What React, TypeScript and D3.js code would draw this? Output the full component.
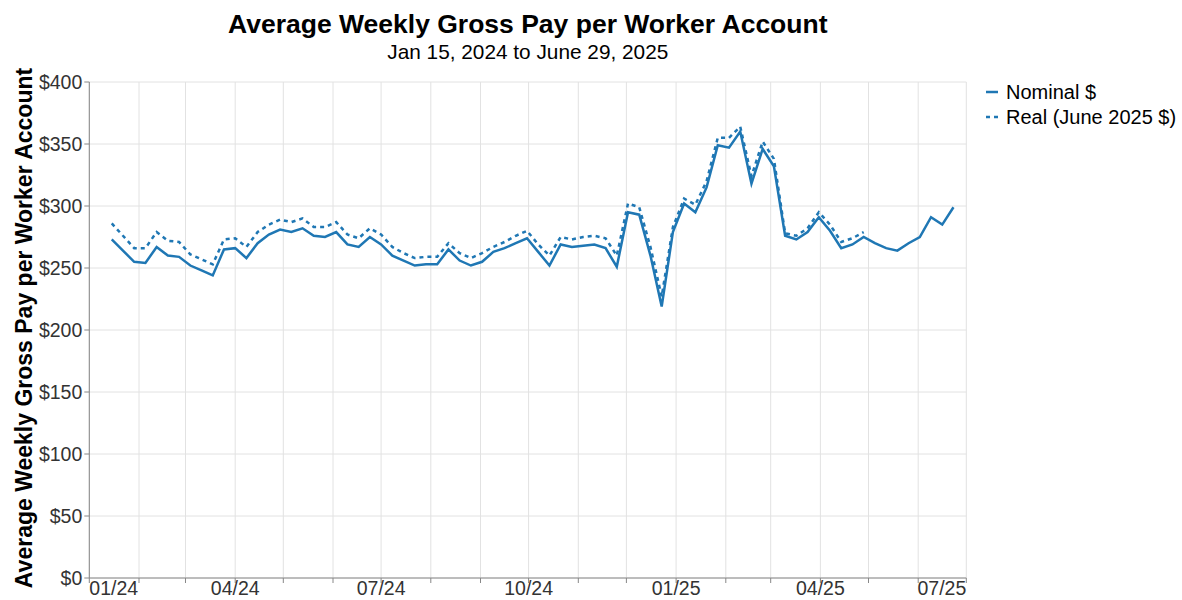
import React from "react";
import * as d3 from "d3";

const START = new Date(Date.UTC(2024, 0, 15));
const nominal = [
  273, 264, 255, 254, 267, 260, 259, 252, 248, 244,
  265, 266, 258, 270, 277, 281, 279, 282, 276, 275,
  279, 269, 267, 275, 269, 260, 256, 252, 253, 253,
  265, 256, 252, 255, 263, 266, 270, 274, 263, 252,
  269, 267, 268, 269, 266, 251, 295, 293, 260, 219,
  279, 302, 295, 315, 349, 347, 360, 318, 346, 332,
  276, 273, 279, 291, 280, 266, 269, 275, 270, 266,
  264, 270, 275, 291, 285, 299,
];
const real = [
  286, 276, 266, 266, 279, 272, 271, 261, 257, 253,
  273, 274, 267, 279, 285, 289, 287, 290, 283, 283,
  287, 277, 274, 282, 277, 267, 262, 258, 259, 259,
  270, 262, 258, 262, 267, 271, 276, 280, 269, 260,
  275, 273, 275, 276, 274, 260, 302, 299, 267, 227,
  283, 306, 301, 320, 355, 355, 364, 324, 352, 338,
  278, 276, 282, 295, 285, 271, 274, 279,
];
const yTicks = [0, 50, 100, 150, 200, 250, 300, 350, 400];
const legendLabels = ["Nominal $", "Real (June 2025 $)"];
const titleText = "Average Weekly Gross Pay per Worker Account";
const subtitleText = "Jan 15, 2024 to June 29, 2025";
const yTitle = "Average Weekly Gross Pay per Worker Account";

const COLOR = "#1f77b4";
const FONT = "'Liberation Sans', Arial, Helvetica, sans-serif";

export default function App() {
  const W = 1182, H = 600;
  const left = 89.3, right = 966.3, top = 82, bottom = 578;
  const x = d3.scaleUtc()
    .domain([new Date(Date.UTC(2024, 0, 1)), new Date(Date.UTC(2025, 6, 1))])
    .range([left, right]);
  const y = d3.scaleLinear().domain([0, 400]).range([bottom, top]);
  const dateAt = (i: number) => d3.utcWeek.offset(START, i);
  const months = d3.utcMonth.range(x.domain()[0], d3.utcDay.offset(x.domain()[1], 1));
  const fmt = d3.utcFormat("%m/%y");
  const line = d3.line<number>().x((_, i) => x(dateAt(i))).y((d) => y(d));
  const labelMonths = months.filter((m) => m.getUTCMonth() % 3 === 0);

  return (
    <div style={{ position: "absolute", left: 0, top: 0 }}>
      <svg width={W} height={H} style={{ display: "block", fontFamily: FONT }}>
        <rect width={W} height={H} fill="#fff" />
        {/* grid */}
        {months.map((m, i) => (
          <line key={"gx" + i} x1={x(m)} x2={x(m)} y1={top} y2={bottom} stroke="#e2e2e2" strokeWidth={1} />
        ))}
        {yTicks.map((t) => (
          <line key={"gy" + t} x1={left} x2={right} y1={y(t)} y2={y(t)} stroke="#e2e2e2" strokeWidth={1} />
        ))}
        {/* axes */}
        <line x1={left} x2={left} y1={top} y2={bottom} stroke="#888" strokeWidth={1} />
        <line x1={left} x2={right} y1={bottom} y2={bottom} stroke="#888" strokeWidth={1} />
        {yTicks.map((t) => (
          <g key={"yt" + t}>
            <line x1={left - 5} x2={left} y1={y(t)} y2={y(t)} stroke="#888" />
            <text x={left - 7} y={y(t)} dy="0.35em" textAnchor="end" fontSize={19.5} fill="#333">
              {"$" + t}
            </text>
          </g>
        ))}
        {months.map((m, i) => (
          <line key={"xt" + i} x1={x(m)} x2={x(m)} y1={bottom} y2={bottom + 5} stroke="#888" />
        ))}
        {labelMonths.map((m, i) => (
          <text
            key={"xl" + i}
            x={x(m)}
            y={bottom + 17}
            textAnchor={i === 0 ? "start" : i === labelMonths.length - 1 ? "end" : "middle"}
            fontSize={19.5}
            fill="#333"
          >
            {fmt(m)}
          </text>
        ))}
        {/* lines */}
        <path d={line(real) || ""} fill="none" stroke={COLOR} strokeWidth={2.5} strokeDasharray="4,4" />
        <path d={line(nominal) || ""} fill="none" stroke={COLOR} strokeWidth={2.5} />
        {/* titles */}
        <text x={(left + right) / 2} y={33} textAnchor="middle" fontSize={26.5} fontWeight="bold" fill="#000">
          {titleText}
        </text>
        <text x={(left + right) / 2} y={59} textAnchor="middle" fontSize={20.8} fill="#000">
          {subtitleText}
        </text>
        <text
          transform={`translate(32,${(top + bottom) / 2 - 2}) rotate(-90)`}
          textAnchor="middle"
          fontSize={23}
          fontWeight="bold"
          fill="#000"
        >
          {yTitle}
        </text>
        {/* legend */}
        {legendLabels.map((lab, i) => (
          <g key={"lg" + i} transform={`translate(986,${92 + i * 25})`}>
            <line x1={0} x2={12} y1={0} y2={0} stroke={COLOR} strokeWidth={2.5} strokeDasharray={i === 1 ? "4,4" : undefined} />
            <text x={20} y={0} dy="0.35em" fontSize={20} fill="#000">
              {lab}
            </text>
          </g>
        ))}
      </svg>
    </div>
  );
}
